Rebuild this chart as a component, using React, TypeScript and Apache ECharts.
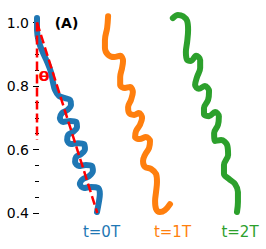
import React, { useEffect, useRef } from "react";
import * as echarts from "echarts";

const yTicks = [0.4, 0.6, 0.8, 1.0];

const blueT0: [number, number][] = [
  [0, 1.014], [0, 0.976], [0.006, 0.939], [0.019, 0.904], [0.032, 0.876], [0.044, 0.844],
  [0.05, 0.813], [0.057, 0.787], [0.069, 0.769], [0.088, 0.762], [0.104, 0.756], [0.107, 0.74],
  [0.095, 0.724], [0.079, 0.715], [0.072, 0.699], [0.082, 0.687], [0.104, 0.69], [0.123, 0.687],
  [0.126, 0.671], [0.113, 0.655], [0.098, 0.646], [0.095, 0.63], [0.107, 0.617], [0.129, 0.62],
  [0.148, 0.617], [0.151, 0.601], [0.139, 0.586], [0.123, 0.576], [0.12, 0.561], [0.132, 0.548],
  [0.154, 0.551], [0.173, 0.548], [0.176, 0.532], [0.164, 0.516], [0.145, 0.507], [0.135, 0.491],
  [0.148, 0.479], [0.17, 0.482], [0.192, 0.479], [0.198, 0.46], [0.195, 0.435], [0.189, 0.403],
];

const orangeT1: [number, number][] = [
  [0.224, 1.02], [0.221, 0.983], [0.214, 0.945], [0.214, 0.92], [0.224, 0.898], [0.243, 0.891],
  [0.262, 0.895], [0.271, 0.879], [0.268, 0.857], [0.262, 0.828], [0.262, 0.803], [0.277, 0.794],
  [0.293, 0.797], [0.302, 0.781], [0.296, 0.756], [0.287, 0.734], [0.29, 0.715], [0.306, 0.709],
  [0.321, 0.715], [0.331, 0.699], [0.324, 0.677], [0.312, 0.658], [0.309, 0.639], [0.324, 0.633],
  [0.343, 0.639], [0.356, 0.627], [0.353, 0.605], [0.34, 0.583], [0.334, 0.564], [0.34, 0.545],
  [0.359, 0.539], [0.375, 0.523], [0.378, 0.498], [0.375, 0.466], [0.372, 0.438], [0.375, 0.413],
  [0.387, 0.403], [0.403, 0.409], [0.419, 0.428],
];

const greenT2: [number, number][] = [
  [0.428, 1.014], [0.444, 1.024], [0.46, 1.02], [0.473, 1.005], [0.476, 0.976], [0.473, 0.939],
  [0.469, 0.907], [0.473, 0.882], [0.485, 0.879], [0.501, 0.895], [0.514, 0.882], [0.514, 0.857],
  [0.504, 0.828], [0.498, 0.803], [0.51, 0.791], [0.529, 0.8], [0.542, 0.784], [0.539, 0.756],
  [0.526, 0.731], [0.526, 0.712], [0.542, 0.705], [0.561, 0.718], [0.573, 0.705], [0.57, 0.677],
  [0.558, 0.652], [0.561, 0.627], [0.58, 0.63], [0.599, 0.614], [0.602, 0.583], [0.589, 0.551],
  [0.589, 0.523], [0.605, 0.507], [0.624, 0.491], [0.633, 0.466], [0.633, 0.435], [0.63, 0.403],
];

const refVertical: [number, number][] = [[0, 1.0], [0, 0.63]];
const refTilted: [number, number][] = [[0, 1.0], [0.19, 0.4]];

const labels = ["t=0T", "t=1T", "t=2T"];
const colors = ["#1f77b4", "#ff7f0e", "#2ca02c"];

const FONT = "DejaVu Sans";

export default function App() {
  const ref = useRef<HTMLDivElement>(null);
  useEffect(() => {
    if (!ref.current) return;
    const chart = echarts.init(ref.current, null, { renderer: "svg" });
    const filament = (data: [number, number][], color: string, name: string) => ({
      type: "line",
      name,
      data,
      smooth: 0.35,
      showSymbol: false,
      symbol: "none",
      clip: false,
      lineStyle: { color, width: 6, cap: "round", join: "round" },
      z: 2,
    });
    const dashed = (data: [number, number][]) => ({
      type: "line",
      data,
      showSymbol: false,
      symbol: "none",
      clip: false,
      lineStyle: { color: "#ff0000", width: 2.5, type: [9, 4] },
      z: 3,
    });
    chart.setOption({
      animation: false,
      grid: { left: 37, right: 0, top: 22.5, bottom: 36 },
      xAxis: { type: "value", min: 0, max: 0.7214, show: false },
      yAxis: {
        type: "value",
        min: 0.4,
        max: 1.0,
        interval: 0.2,
        offset: -2,
        splitLine: { show: false },
        axisLine: { show: false },
        axisTick: { show: true, length: 6, lineStyle: { color: "#000", width: 1 } },
        minorTick: { show: true, splitNumber: 4, length: 4, lineStyle: { color: "#000", width: 1 } },
        axisLabel: {
          color: "#000",
          fontSize: 14,
          fontFamily: FONT,
          margin: 10,
          formatter: (v: number) => (yTicks.some((t) => Math.abs(t - v) < 1e-6) ? v.toFixed(1) : ""),
        },
      },
      series: [
        filament(blueT0, colors[0], labels[0]),
        filament(orangeT1, colors[1], labels[1]),
        filament(greenT2, colors[2], labels[2]),
        dashed(refVertical),
        dashed(refTilted),
      ],
      graphic: [
        {
          type: "text",
          x: 66.5,
          y: 23,
          style: { text: "(A)", fontSize: 14, fontWeight: "bold", fontFamily: FONT, fill: "#000", textAlign: "center", textVerticalAlign: "middle" },
        },
        {
          type: "text",
          x: 44,
          y: 76.5,
          scaleX: 1.25,
          style: { text: "θ", fontSize: 13, fontWeight: "bold", fontFamily: FONT, fill: "#ff0000", textAlign: "center", textVerticalAlign: "middle" },
        },
        ...labels.map((t, i) => ({
          type: "text",
          x: [101.5, 172.5, 240][i],
          y: 232,
          style: { text: t, fontSize: 15, fontFamily: FONT, fill: colors[i], textAlign: "center", textVerticalAlign: "middle" },
        })),
      ],
    });
    return () => chart.dispose();
  }, []);
  return (
    <div
      ref={ref}
      style={{ position: "fixed", left: 0, top: 0, width: 266, height: 249, background: "#fff" }}
    />
  );
}
